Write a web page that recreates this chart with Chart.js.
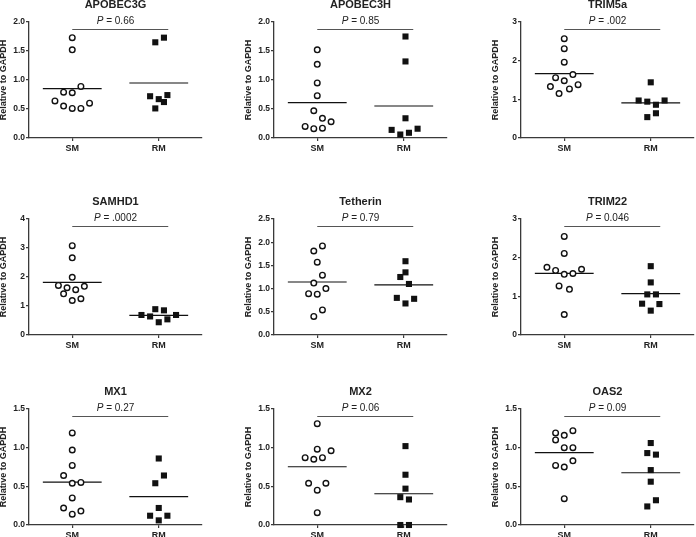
<!DOCTYPE html>
<html>
<head>
<meta charset="utf-8">
<script src="https://cdn.jsdelivr.net/npm/chart.js@4"></script>
<style>
  body { margin: 0; background: #fff; width: 696px; height: 537px; overflow: hidden; position: relative; }
  canvas { position: absolute; }
</style>
</head>
<body>
<script>
// ---------- data ----------
const genes = ['APOBEC3G', 'APOBEC3H', 'TRIM5a', 'SAMHD1', 'Tetherin', 'TRIM22', 'MX1', 'MX2', 'OAS2'];
const pValues = ['0.66', '0.85', '.002', '.0002', '0.79', '0.046', '0.27', '0.06', '0.09'];
const groups = ['SM', 'RM'];
const yMax = [2, 2, 3, 4, 2.5, 3, 1.5, 1.5, 1.5];
const yStep = [0.5, 0.5, 1, 1, 0.5, 1, 0.5, 0.5, 0.5];

// SM (open circles)
const smValues = [
  [1.73, 1.52, 0.89, 0.79, 0.78, 0.64, 0.60, 0.55, 0.51, 0.51],
  [1.52, 1.27, 0.95, 0.73, 0.47, 0.34, 0.28, 0.20, 0.16, 0.17],
  [2.57, 2.31, 1.96, 1.64, 1.56, 1.48, 1.33, 1.38, 1.27, 1.15],
  [3.08, 2.66, 1.99, 1.71, 1.63, 1.68, 1.56, 1.42, 1.25, 1.19],
  [1.92, 1.81, 1.57, 1.29, 1.12, 1.00, 0.89, 0.88, 0.54, 0.40],
  [2.55, 2.11, 1.75, 1.67, 1.70, 1.57, 1.59, 1.27, 1.18, 0.53],
  [1.19, 0.97, 0.77, 0.64, 0.54, 0.55, 0.35, 0.22, 0.18, 0.14],
  [1.31, 0.98, 0.96, 0.87, 0.85, 0.87, 0.54, 0.54, 0.45, 0.16],
  [1.19, 1.16, 1.22, 1.10, 1.00, 1.00, 0.77, 0.75, 0.83, 0.34]
];
const smX = [
  [0.25, 0.25, 0.30, 0.20, 0.25, 0.15, 0.35, 0.20, 0.25, 0.30],
  [0.25, 0.25, 0.25, 0.25, 0.23, 0.28, 0.33, 0.18, 0.23, 0.28],
  [0.25, 0.25, 0.25, 0.30, 0.20, 0.25, 0.17, 0.33, 0.28, 0.22],
  [0.25, 0.25, 0.25, 0.17, 0.22, 0.32, 0.27, 0.20, 0.30, 0.25],
  [0.28, 0.23, 0.25, 0.28, 0.23, 0.30, 0.20, 0.25, 0.28, 0.23],
  [0.25, 0.25, 0.15, 0.20, 0.35, 0.25, 0.30, 0.22, 0.28, 0.25],
  [0.25, 0.25, 0.25, 0.20, 0.25, 0.30, 0.25, 0.20, 0.30, 0.25],
  [0.25, 0.25, 0.33, 0.18, 0.23, 0.28, 0.20, 0.30, 0.25, 0.25],
  [0.20, 0.25, 0.30, 0.20, 0.25, 0.30, 0.20, 0.25, 0.30, 0.25]
];

// RM (filled squares)
const rmValues = [
  [1.65, 1.73, 0.72, 0.67, 0.74, 0.62, 0.51],
  [1.75, 1.32, 0.34, 0.14, 0.06, 0.09, 0.16],
  [1.44, 0.97, 0.94, 0.97, 0.86, 0.64, 0.54],
  [0.69, 0.64, 0.89, 0.85, 0.54, 0.44, 0.69],
  [1.59, 1.35, 1.25, 1.10, 0.80, 0.78, 0.68],
  [1.78, 1.36, 1.05, 1.05, 0.81, 0.80, 0.63],
  [0.86, 0.64, 0.54, 0.22, 0.12, 0.12, 0.06],
  [1.02, 0.65, 0.47, 0.36, 0.33, 0.00, 0.00],
  [1.06, 0.93, 0.91, 0.71, 0.56, 0.32, 0.24]
];
const rmX = [
  [0.73, 0.78, 0.70, 0.75, 0.80, 0.78, 0.73],
  [0.76, 0.76, 0.76, 0.68, 0.73, 0.78, 0.83],
  [0.75, 0.68, 0.73, 0.83, 0.78, 0.78, 0.73],
  [0.65, 0.70, 0.73, 0.78, 0.80, 0.75, 0.85],
  [0.76, 0.76, 0.73, 0.78, 0.71, 0.81, 0.76],
  [0.75, 0.75, 0.73, 0.78, 0.70, 0.80, 0.75],
  [0.75, 0.78, 0.73, 0.75, 0.70, 0.80, 0.75],
  [0.76, 0.76, 0.76, 0.73, 0.78, 0.73, 0.78],
  [0.75, 0.73, 0.78, 0.75, 0.75, 0.78, 0.73]
];

// ---------- layout ----------
const colAxisX = [29, 274, 521];
const rowTop = [22, 219, 409];
const plotW = 173, plotH = 116;
const padL = 45, padT = 30, padR = 10, padB = 22;

const ink = '#222';
const axisColor = '#3a3a3a';

function mean(arr) {
  return arr.reduce((a, b) => a + b, 0) / arr.length;
}

// title + P value bracket
const annotPlugin = {
  id: 'annot',
  afterDraw(chart, args, opts) {
    const { ctx, chartArea } = chart;
    const xs = chart.scales.x;
    const cx = (chartArea.left + chartArea.right) / 2;
    ctx.save();
    ctx.fillStyle = ink;
    ctx.textBaseline = 'middle';
    ctx.textAlign = 'center';
    ctx.font = 'bold 11px "Liberation Sans", Arial, sans-serif';
    ctx.fillText(opts.title, cx, chartArea.top - 17);

    // P = ...
    const rest = ' = ' + opts.p;
    ctx.font = 'italic 10px "Liberation Sans", Arial, sans-serif';
    const wP = ctx.measureText('P').width;
    ctx.font = '10px "Liberation Sans", Arial, sans-serif';
    const wR = ctx.measureText(rest).width;
    let x0 = cx - (wP + wR) / 2;
    ctx.textAlign = 'left';
    ctx.font = 'italic 10px "Liberation Sans", Arial, sans-serif';
    ctx.fillText('P', x0, chartArea.top - 1);
    ctx.font = '10px "Liberation Sans", Arial, sans-serif';
    ctx.fillText(rest, x0 + wP, chartArea.top - 1);

    // bracket line
    ctx.strokeStyle = '#555';
    ctx.lineWidth = 1;
    ctx.beginPath();
    const ly = Math.round(chartArea.top + 7) + 0.5;
    ctx.moveTo(xs.getPixelForValue(0.25), ly);
    ctx.lineTo(xs.getPixelForValue(0.805), ly);
    ctx.stroke();
    ctx.restore();
  }
};

genes.forEach((gene, i) => {
  const col = i % 3, row = Math.floor(i / 3);
  const canvas = document.createElement('canvas');
  canvas.width = padL + plotW + padR;
  canvas.height = padT + plotH + padB;
  canvas.style.left = (colAxisX[col] - padL) + 'px';
  canvas.style.top = (rowTop[row] - padT) + 'px';
  document.body.appendChild(canvas);

  const smMean = mean(smValues[i]);
  const rmMean = mean(rmValues[i]);

  new Chart(canvas.getContext('2d'), {
    type: 'scatter',
    data: {
      datasets: [
        {
          label: groups[0],
          data: smValues[i].map((v, k) => ({ x: smX[i][k], y: v })),
          pointStyle: 'circle',
          pointRadius: 2.8,
          borderWidth: 1.4,
          borderColor: '#111',
          backgroundColor: '#fff'
        },
        {
          label: groups[1],
          data: rmValues[i].map((v, k) => ({ x: rmX[i][k], y: v })),
          pointStyle: 'rect',
          pointRadius: 4.3,
          borderWidth: 0,
          borderColor: '#111',
          backgroundColor: '#111'
        },
        {
          type: 'line',
          label: 'SM mean',
          data: [{ x: 0.08, y: smMean }, { x: 0.42, y: smMean }],
          borderColor: '#111',
          borderWidth: 1.2,
          pointRadius: 0
        },
        {
          type: 'line',
          label: 'RM mean',
          data: [{ x: 0.58, y: rmMean }, { x: 0.92, y: rmMean }],
          borderColor: '#111',
          borderWidth: 1.2,
          pointRadius: 0
        }
      ]
    },
    options: {
      responsive: false,
      animation: false,
      devicePixelRatio: 1,
      clip: false,
      layout: { padding: { top: padT, right: padR, left: 0, bottom: 0 } },
      plugins: {
        legend: { display: false },
        tooltip: { enabled: false },
        annot: { title: gene, p: pValues[i] }
      },
      scales: {
        x: {
          type: 'linear',
          min: 0,
          max: 1,
          afterBuildTicks: s => { s.ticks = [{ value: 0.25 }, { value: 0.75 }]; },
          afterFit: s => { s.height = padB; },
          ticks: {
            padding: 2,
            color: ink,
            font: { family: '"Liberation Sans", Arial, sans-serif', size: 9, weight: 'bold' },
            callback: v => (v < 0.5 ? groups[0] : groups[1])
          },
          grid: { drawOnChartArea: false, drawTicks: true, tickLength: 3, color: axisColor, lineWidth: 1.2 },
          border: { color: axisColor, width: 1.3 }
        },
        y: {
          min: 0,
          max: yMax[i],
          afterFit: s => { s.width = padL; },
          ticks: {
            stepSize: yStep[i],
            padding: 1,
            color: ink,
            font: { family: '"Liberation Sans", Arial, sans-serif', size: 8.5, weight: 'bold' },
            callback: v => (yStep[i] < 1 ? v.toFixed(1) : String(v))
          },
          grid: { drawOnChartArea: false, drawTicks: true, tickLength: 3, color: axisColor, lineWidth: 1.2 },
          border: { color: axisColor, width: 1.3 },
          title: {
            display: true,
            text: 'Relative to GAPDH',
            color: ink,
            padding: { top: 14, bottom: 0 },
            font: { family: '"Liberation Sans", Arial, sans-serif', size: 9, weight: 'bold' }
          }
        }
      }
    },
    plugins: [annotPlugin]
  });
});
</script>
</body>
</html>
